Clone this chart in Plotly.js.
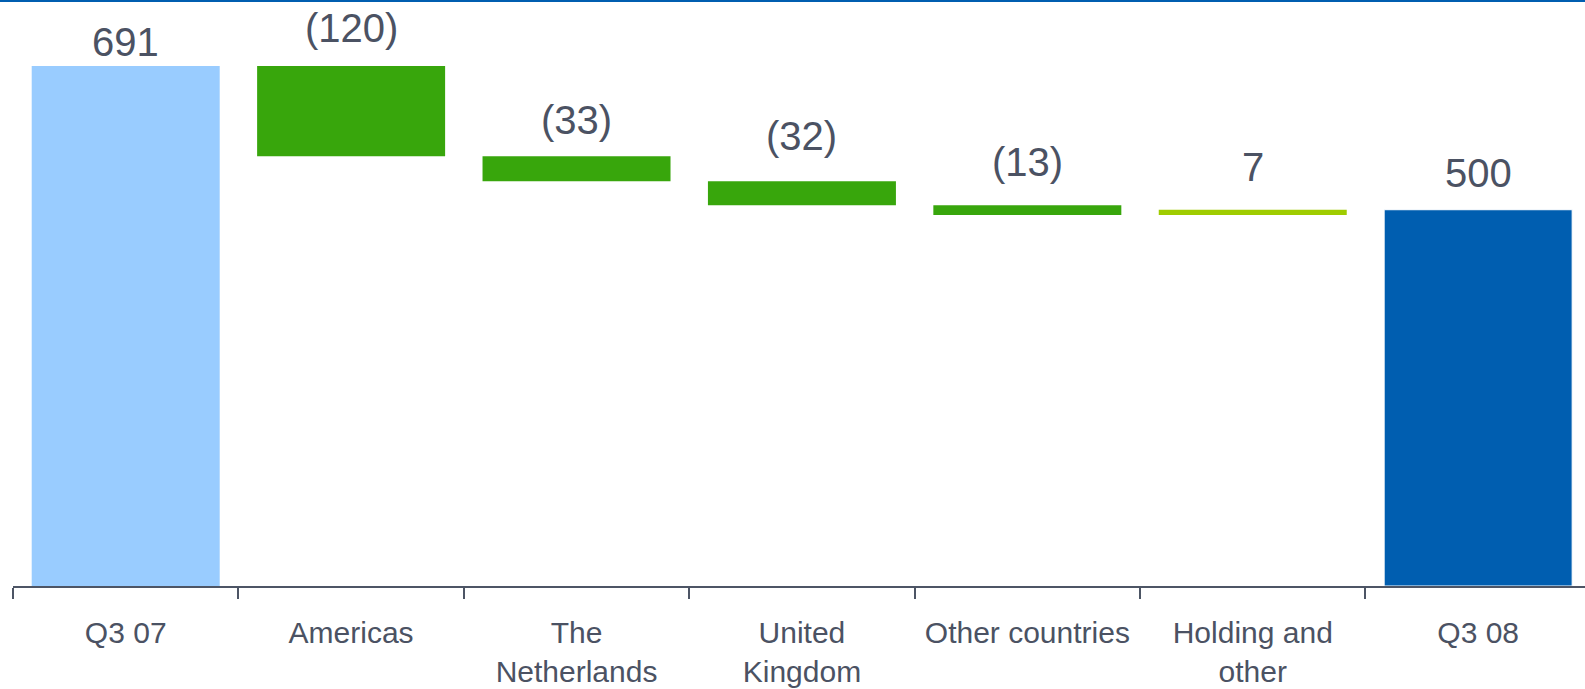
<!DOCTYPE html>
<html>
<head>
<meta charset="utf-8">
<script src="https://cdn.plot.ly/plotly-3.0.1.min.js"></script>
<style>
  html, body { margin: 0; padding: 0; background: #ffffff; }
  #chart { width: 1585px; height: 689px; }
</style>
</head>
<body>
<div id="chart"></div>
<script>
// ---- data ----
const categories = ['Q3 07', 'Americas', 'The<br>Netherlands', 'United<br>Kingdom', 'Other countries', 'Holding and<br>other', 'Q3 08'];
const values = [691, -120, -33, -32, -13, 7, 500];
const measures = ['absolute', 'relative', 'relative', 'relative', 'relative', 'relative', 'total'];
const valueLabels = ['691', '(120)', '(33)', '(32)', '(13)', '7', '500'];

// ---- styles ----
const barColors = ['#99CCFF', '#38A60C', '#38A60C', '#38A60C', '#38A60C', '#9FCC00', '#005EB0'];
const labelShift = [0, 14, 12, 21, 19, 19, 13];
const textColor = '#4b5263';

// ---- build waterfall geometry from values ----
const bases = [], heights = [], tops = [];
let running = 0;
values.forEach((v, i) => {
  if (measures[i] === 'absolute') {
    bases.push(0); heights.push(v); running = v;
  } else if (measures[i] === 'total') {
    bases.push(0); heights.push(running);
  } else {
    bases.push(Math.min(running, running + v));
    heights.push(Math.abs(v));
    running += v;
  }
  tops.push(bases[i] + heights[i]);
});

const trace = {
  type: 'bar',
  x: categories,
  y: heights,
  base: bases,
  width: 0.834,
  marker: {
    color: barColors,
    line: { color: '#ffffff', width: [0, 0, 0, 0, 0, 0, 1] }
  },
  hoverinfo: 'skip',
  showlegend: false
};

const annotations = categories.map((c, i) => ({
  x: c, y: tops[i], xref: 'x', yref: 'y',
  text: valueLabels[i], showarrow: false,
  yanchor: 'bottom', yshift: labelShift[i],
  font: { family: 'Liberation Sans, Arial, sans-serif', size: 40, color: textColor }
}));

const layout = {
  width: 1585, height: 689,
  margin: { l: 13, r: 0, t: 0, b: 103, pad: 0 },
  paper_bgcolor: '#ffffff', plot_bgcolor: '#ffffff',
  xaxis: {
    type: 'category',
    range: [-0.5, 6.474],
    tickson: 'boundaries',
    ticks: 'outside', ticklen: 11, tickwidth: 2, tickcolor: '#4d5565',
    ticklabelstandoff: 19,
    showline: true, linecolor: '#4d5565', linewidth: 2,
    showgrid: false, zeroline: false,
    tickfont: { family: 'Liberation Sans, Arial, sans-serif', size: 30, color: textColor },
    fixedrange: true
  },
  yaxis: {
    range: [0, 778.7],
    visible: false, showgrid: false, zeroline: false, fixedrange: true
  },
  annotations: annotations,
  shapes: [{
    type: 'rect', xref: 'paper', yref: 'paper',
    x0: -0.02, x1: 1.02, y0: 1 - 2 / 586, y1: 1,
    fillcolor: '#005EB0', line: { width: 0 }, layer: 'above'
  }]
};

Plotly.newPlot('chart', [trace], layout, { displayModeBar: false, staticPlot: true });
</script>
</body>
</html>
